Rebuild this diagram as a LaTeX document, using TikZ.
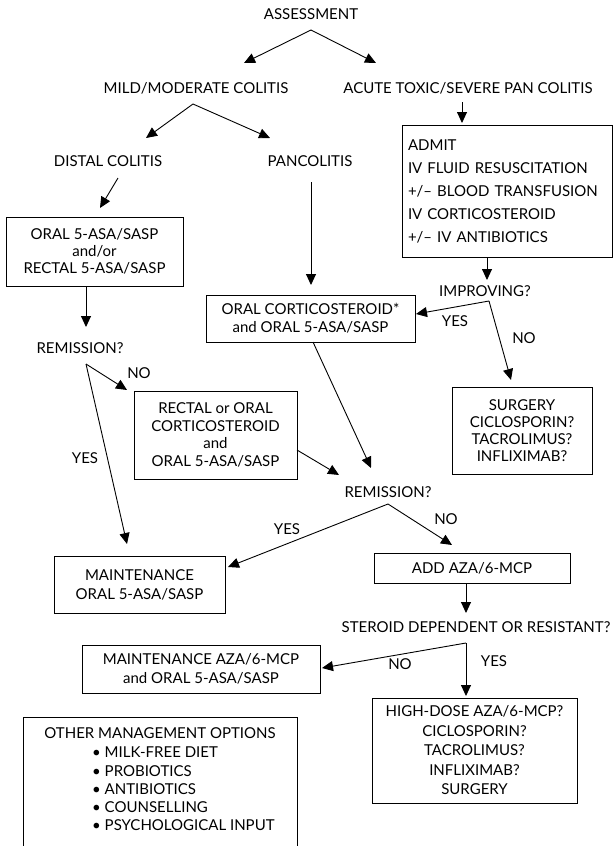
\documentclass[tikz,border=0pt]{standalone}
\usepackage{fontspec}
\setmainfont{Lato}
\usetikzlibrary{arrows.meta}
\begin{document}
\begin{tikzpicture}[x=1pt,y=-1pt,
  every node/.style={inner sep=0pt, font=\fontsize{15}{17}\selectfont},
  arr/.style={-{Triangle[length=11pt,width=10pt]}, line width=0.9pt},
  box/.style={draw, line width=0.9pt, align=center}]
\useasboundingbox (0,0) rectangle (613,846);

% text labels
\node (asm) at (311,14) {ASSESSMENT};
\node (mild) at (196,88) {MILD/MODERATE COLITIS};
\node (acute) at (468,88) {ACUTE TOXIC/SEVERE PAN COLITIS};
\node (distal) at (108,161) {DISTAL COLITIS};
\node (panco) at (310,161) {PANCOLITIS};
\node (rem1) at (80,348) {REMISSION?};
\node (improving) at (485,291) {IMPROVING?};
\node (rem2) at (388,492) {REMISSION?};
\node (steroid) at (476,627) {STEROID DEPENDENT OR RESISTANT?};

% boxes
\node[box, minimum width=210pt, minimum height=132pt, align=left,
      font=\fontsize{15}{23}\selectfont, text width=198pt] (admit) at (507,191)
  {ADMIT\\IV FLUID RESUSCITATION\\+/-- BLOOD TRANSFUSION\\IV CORTICOSTEROID\\+/-- IV ANTIBIOTICS};
\node[box, minimum width=177pt, minimum height=69pt,
      font=\fontsize{15}{17}\selectfont] (oral5) at (94.5,251.5)
  {ORAL 5-ASA/SASP\\and/or\\RECTAL 5-ASA/SASP};
\node[box, minimum width=209pt, minimum height=47pt,
      font=\fontsize{15}{18}\selectfont] (oralcort) at (310.5,318.5)
  {ORAL CORTICOSTEROID*\\and ORAL 5-ASA/SASP};
\node[box, minimum width=140pt, minimum height=87pt,
      font=\fontsize{15}{17}\selectfont] (surgery) at (522,430.5)
  {SURGERY\\CICLOSPORIN?\\TACROLIMUS?\\INFLIXIMAB?};
\node[box, minimum width=163pt, minimum height=88pt,
      font=\fontsize{15}{17.5}\selectfont] (rectal) at (215.5,435)
  {RECTAL or ORAL\\CORTICOSTEROID\\and\\ORAL 5-ASA/SASP};
\node[box, minimum width=171pt, minimum height=57pt,
      font=\fontsize{15}{19}\selectfont] (maint) at (139.5,585)
  {MAINTENANCE\\ORAL 5-ASA/SASP};
\node[box, minimum width=196pt, minimum height=30pt] (addaza) at (472,568)
  {ADD AZA/6-MCP};
\node[box, minimum width=238pt, minimum height=48pt,
      font=\fontsize{15}{19}\selectfont] (maintaza) at (201,669)
  {MAINTENANCE AZA/6-MCP\\and ORAL 5-ASA/SASP};
\node[box, minimum width=205pt, minimum height=105pt,
      font=\fontsize{15}{19.5}\selectfont] (highdose) at (474.5,750.5)
  {HIGH-DOSE AZA/6-MCP?\\CICLOSPORIN?\\TACROLIMUS?\\INFLIXIMAB?\\SURGERY};
\node[draw, line width=0.9pt, minimum width=274pt, minimum height=133pt] (other) at (160,783.5) {};
\node (othertitle) at (160,733) {OTHER MANAGEMENT OPTIONS};
\node[anchor=north west, align=left, font=\fontsize{15}{18.2}\selectfont] (otherlist) at (92,747)
  {\textbullet\ MILK-FREE DIET\\\textbullet\ PROBIOTICS\\\textbullet\ ANTIBIOTICS\\\textbullet\ COUNSELLING\\\textbullet\ PSYCHOLOGICAL INPUT};

% edge labels
\node (no1) at (139,373) {NO};
\node (yes1) at (85,458) {YES};
\node (yes2) at (455,321) {YES};
\node (no2) at (524,338) {NO};
\node (yes3) at (287,529) {YES};
\node (no3) at (446,519) {NO};
\node (no4) at (400,664) {NO};
\node (yes4) at (494,661) {YES};

% junction coordinates
\coordinate (asmJ) at (311,30);
\coordinate (asmL) at (244,63);
\coordinate (asmR) at (376,63);
\coordinate (mildJ) at (193,104);
\coordinate (mildL) at (146,138);
\coordinate (mildR) at (270,138);
\coordinate (impJ) at (489,301);
\coordinate (rem1J) at (86,364);
\coordinate (rem2J) at (388,504);
\coordinate (sterJ) at (466,643);

% connectors
\draw[arr] (asmJ) -- (asmL);
\draw[arr] (asmJ) -- (asmR);
\draw[arr] (mildJ) -- (mildL);
\draw[arr] (mildJ) -- (mildR);
\draw[arr] (462,102) -- (462,123);
\draw[arr] (118,178) -- (100,208);
\draw[arr] (311,182) -- (311,285);
\draw[arr] (86,286) -- (86,327);
\draw[arr] (487,257) -- (487,280);
\draw[arr] (impJ) -- (416,314);
\draw[arr] (impJ) -- (511,380);
\draw[arr] (rem1J) -- (127,390);
\draw[arr] (rem1J) -- (127,544);
\draw[arr] (313,342) -- (371,468);
\draw[arr] (297,450) -- (339,475);
\draw[arr] (rem2J) -- (228,567);
\draw[arr] (rem2J) -- (452,545);
\draw[arr] (466,583) -- (466,613);
\draw[arr] (sterJ) -- (322,668);
\draw[arr] (sterJ) -- (466,696);
\end{tikzpicture}
\end{document}
